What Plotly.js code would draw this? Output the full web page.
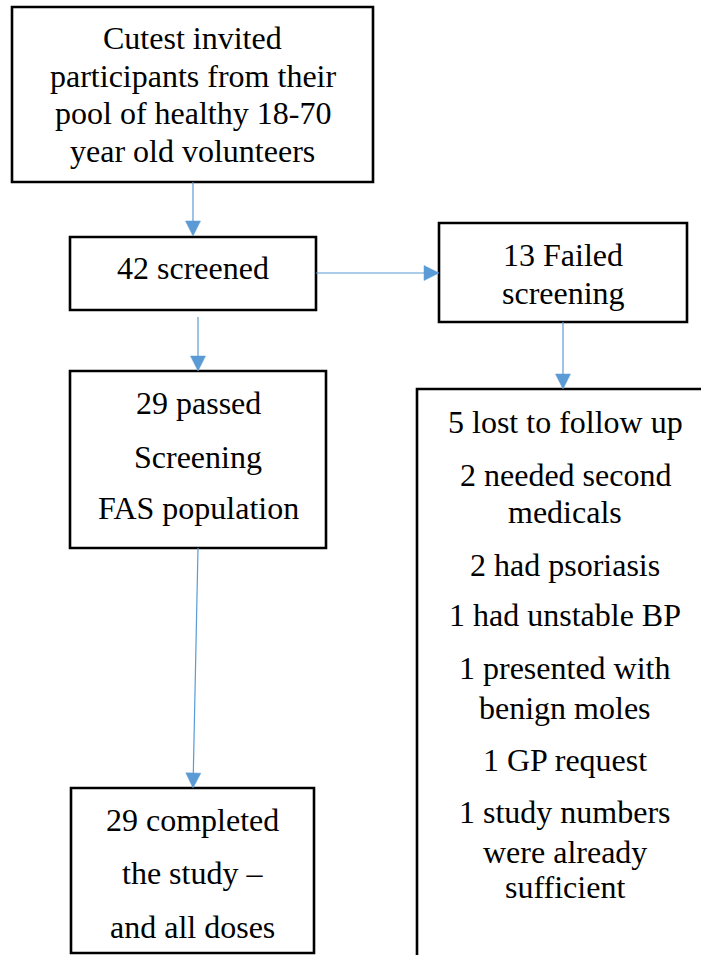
<!DOCTYPE html>
<html>
<head>
<meta charset="utf-8">
<script src="https://cdn.plot.ly/plotly-3.0.1.min.js"></script>
<style>
  html, body { margin: 0; padding: 0; background: #ffffff; }
  #chart { width: 701px; height: 955px; }
</style>
</head>
<body>
<div id="chart"></div>
<script>
// ---- content (text of each flowchart box) ----
const box1Lines = ["Cutest invited", "participants from their", "pool of healthy 18-70", "year old volunteers"];
const box2Lines = ["42 screened"];
const box3Lines = ["13 Failed", "screening"];
const box4Lines = ["29 passed", "Screening", "FAS population"];
const box5Lines = ["5 lost to follow up", "2 needed second", "medicals", "2 had psoriasis",
                   "1 had unstable BP", "1 presented with", "benign moles", "1 GP request",
                   "1 study numbers", "were already", "sufficient"];
const box6Lines = ["29 completed", "the study \u2013", "and all doses"];

// ---- layout geometry (pixel-like plot units, y grows downward) ----
const boxRects = [
  [12, 7, 373, 182],
  [70, 237, 316, 310],
  [439, 223, 687, 322],
  [70, 371, 326, 548],
  [417, 389, 730, 990],
  [71, 788, 314, 953]
];
const textCenterX = [192.5, 193, 563, 198, 565, 192.5];
const lineCenterY = [
  [38, 76, 113, 151],
  [268],
  [255, 293],
  [403, 457, 508],
  [422, 475, 512, 565, 615, 668, 708, 760, 812, 852, 887],
  [820, 873, 927]
];
// arrows: [tailX, tailY, headX, headY]
const arrows = [
  [193, 182, 193, 236],
  [316, 273, 439, 273],
  [563, 322, 563, 389],
  [198, 317, 198, 371],
  [198, 548, 193, 788]
];
const headLen = 15, headHalfW = 7.5;
const arrowColor = '#5b9bd5';
const serifFamily = 'Liberation Serif, Times New Roman, Tinos, DejaVu Serif, serif';

const allLines = [box1Lines, box2Lines, box3Lines, box4Lines, box5Lines, box6Lines];

const shapes = boxRects.map(r => ({
  type: 'rect', xref: 'x', yref: 'y',
  x0: r[0], y0: r[1], x1: r[2], y1: r[3],
  line: { color: '#000000', width: 2.6 },
  fillcolor: 'rgba(0,0,0,0)'
}));

arrows.forEach(a => {
  const dx = a[2] - a[0], dy = a[3] - a[1];
  const L = Math.hypot(dx, dy);
  const ux = dx / L, uy = dy / L;
  const bx = a[2] - ux * headLen, by = a[3] - uy * headLen;
  shapes.push({
    type: 'line', xref: 'x', yref: 'y',
    x0: a[0], y0: a[1], x1: bx, y1: by,
    line: { color: arrowColor, width: 1.2 }
  });
  const px = -uy * headHalfW, py = ux * headHalfW;
  shapes.push({
    type: 'path', xref: 'x', yref: 'y',
    path: 'M' + a[2] + ',' + a[3] + ' L' + (bx + px) + ',' + (by + py) +
          ' L' + (bx - px) + ',' + (by - py) + ' Z',
    fillcolor: arrowColor, line: { color: arrowColor, width: 0.5 }
  });
});

const annotations = [];
allLines.forEach((lines, bi) => {
  lines.forEach((t, li) => {
    annotations.push({
      x: textCenterX[bi], y: lineCenterY[bi][li], xref: 'x', yref: 'y',
      text: t, showarrow: false, xanchor: 'center', yanchor: 'middle',
      font: { family: serifFamily, size: 32, color: '#000000' }
    });
  });
});

const layout = {
  width: 701, height: 955,
  margin: { l: 0, r: 0, t: 0, b: 0, pad: 0 },
  paper_bgcolor: '#ffffff', plot_bgcolor: '#ffffff',
  showlegend: false,
  font: { family: serifFamily },
  xaxis: { range: [0, 701], visible: false, fixedrange: true },
  yaxis: { range: [955, 0], visible: false, fixedrange: true },
  shapes: shapes,
  annotations: annotations
};

Plotly.newPlot('chart', [], layout, { displayModeBar: false, staticPlot: true });
</script>
</body>
</html>
